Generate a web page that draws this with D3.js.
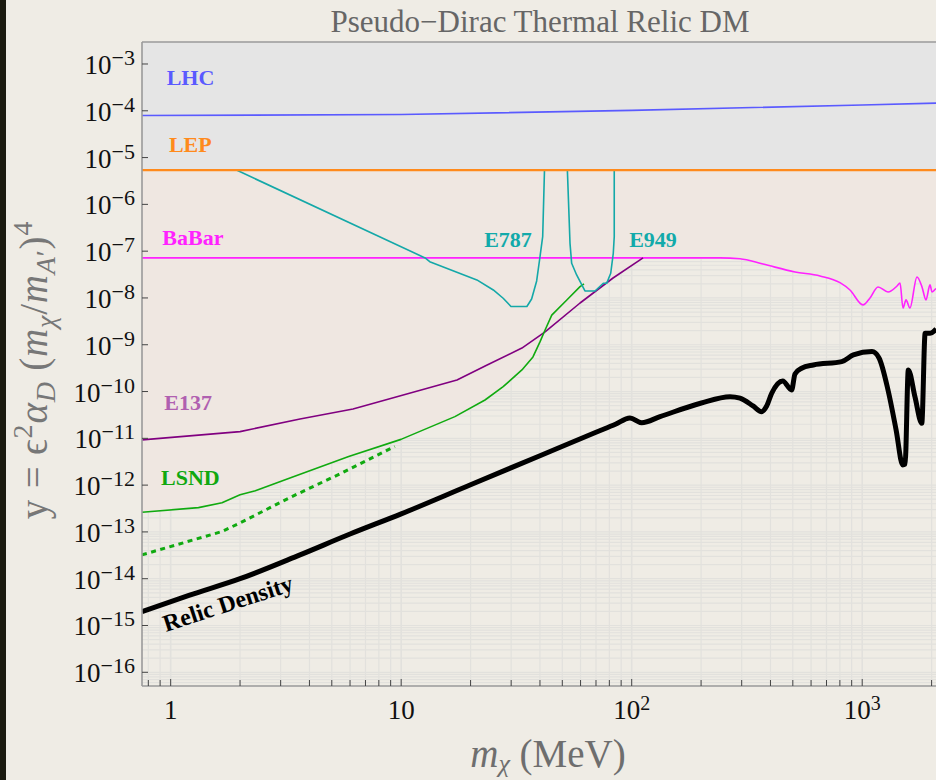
<!DOCTYPE html>
<html>
<head>
<meta charset="utf-8">
<script src="https://cdn.jsdelivr.net/npm/d3@7"></script>
<style>
  html, body { margin: 0; padding: 0; background: #efece5; }
  svg { display: block; }
</style>
</head>
<body>
<div id="chart"></div>
<script>
// ---- data: [m_chi (MeV), y] ----
const lhc = [[0.751, 7.9e-5], [10, 8.3e-5], [100, 1.02e-4], [1000, 1.33e-4], [2200, 1.47e-4]]
const lep = [[0.751, 5.4e-6], [2200, 5.4e-6]]
const babar = [[0.751, 7.2e-8], [242, 7.2e-8], [295, 6.9e-8], [371, 5.3e-8], [511, 3.6e-8], [656, 2.95e-8],
  [801, 2.12e-8], [885, 1.48e-8], [1008, 7.1e-9], [1081, 1.0e-8], [1171, 1.72e-8], [1294, 1.34e-8],
  [1416, 1.8e-8], [1459, 2.09e-8], [1503, 6.1e-9], [1549, 9.1e-9], [1611, 6.1e-9], [1728, 2.81e-8],
  [1817, 1.72e-8], [1891, 9.1e-9], [1968, 1.9e-8], [2009, 1.34e-8], [2091, 1.56e-8], [2200, 1.5e-8]]
const e137 = [[0.751, 9.25e-12], [2.0, 1.39e-11], [3.64, 2.6e-11], [6.18, 4.25e-11], [17.46, 1.77e-10],
  [23.6, 3.7e-10], [33.4, 8.5e-10], [42.1, 1.88e-9], [59.7, 7.8e-9], [83.0, 2.67e-8], [112, 7.2e-8]]
const lsnd = [[0.751, 2.64e-13], [1.32, 3.3e-13], [1.67, 4.2e-13], [2.0, 6.2e-13], [2.33, 7.6e-13],
  [3.36, 1.48e-12], [5.92, 4.07e-12], [9.98, 9.5e-12], [17.1, 2.91e-11], [23.1, 6.6e-11], [27.7, 1.27e-10],
  [33.4, 2.9e-10], [37.3, 5.5e-10], [40.0, 1.15e-9], [42.1, 2.07e-9], [45.0, 4.3e-9], [52.3, 9.06e-9],
  [59.7, 1.75e-8], [62.1, 2.0e-8]]
const lsndDotted = [[0.751, 3.23e-14], [1.67, 1.02e-13], [2.0, 1.56e-13], [3.36, 5.7e-13], [5.53, 1.82e-12], [9.38, 6.7e-12]]
const e787 = [[1.93, 5.4e-6], [12.7, 7.16e-8], [13.3, 5.97e-8], [21.3, 2.43e-8], [25.1, 1.48e-8], [27.7, 9.86e-9],
  [29.95, 6.58e-9], [35.1, 6.58e-9], [36.8, 9.5e-9], [38.7, 2.31e-8], [40.0, 7.5e-8], [41.1, 2.04e-7], [41.85, 5.4e-6]]
const e949 = [[52.6, 5.4e-6], [54.0, 1.47e-7], [54.9, 5.5e-8], [57.7, 3.1e-8], [62.7, 1.41e-8], [69.3, 1.41e-8],
  [75.3, 2.06e-8], [77.9, 2.06e-8], [81.1, 3.37e-8], [83.2, 9.0e-8], [84.0, 2.04e-7], [84.0, 5.4e-6]]
const relic = [[0.751, 1.98e-15], [1.2, 4.4e-15], [2.0, 1.0e-14], [3.64, 3.23e-14], [6.0, 9.0e-14], [10, 2.43e-13],
  [20, 1.02e-12], [40, 4.25e-12], [70, 1.35e-11], [85, 2.0e-11], [98.3, 2.73e-11], [110.5, 2.16e-11],
  [132.7, 2.91e-11], [198.9, 5.62e-11], [267, 7.78e-11], [295, 7.2e-11], [336, 4.92e-11], [366, 3.72e-11],
  [385, 4.92e-11], [405, 9.2e-11], [452, 1.68e-10], [494, 1.08e-10], [511, 2.38e-10], [546, 3.15e-10],
  [614, 3.7e-10], [815, 4.36e-10], [915, 6.05e-10], [1103, 7.13e-10], [1183, 5.22e-10], [1294, 1.08e-10],
  [1403, 1.51e-11], [1499, 2.7e-12], [1535, 2.8e-12], [1585, 2.9e-10], [1694, 7.68e-11], [1813, 2.1e-11],
  [1875, 1.76e-9], [1971, 1.76e-9], [2094, 2.18e-9]]

// ticks
const xMajor = [1, 10, 100, 1000]
const xMajorLabels = [['1', ''], ['10', ''], ['10', '2'], ['10', '3']]
const yExponents = [-3, -4, -5, -6, -7, -8, -9, -10, -11, -12, -13, -14, -15, -16]

// labels: [text, m, y, colour]
const curveLabels = [
  ['LHC', 0.961, 3.55e-4, '#5a5aff'],
  ['LEP', 0.983, 1.34e-5, '#ff8a1c'],
  ['BaBar', 0.92, 1.35e-7, '#ff22ff'],
  ['E137', 0.938, 4.05e-11, '#b060b0'],
  ['LSND', 0.908, 1.01e-12, '#10a810'],
  ['E787', 22.9, 1.23e-7, '#12aaaa'],
  ['E949', 97.5, 1.23e-7, '#12aaaa']
]

const W = 936, H = 780
const x = d3.scaleLog().domain([0.751, 2656]).range([142, 960])
const y = d3.scaleLog().domain([Math.pow(10, -2.53), Math.pow(10, -16.293)]).range([42, 686])

const svg = d3.select('#chart').append('svg').attr('width', W).attr('height', H)
  .style('font-family', '"Liberation Serif", "DejaVu Serif", serif')

svg.append('rect').attr('width', W).attr('height', H).attr('fill', '#efece5')
svg.append('rect').attr('width', 6).attr('height', H).attr('fill', '#1b1a10')

svg.append('clipPath').attr('id', 'plotclip')
  .append('rect').attr('x', 142).attr('y', 42).attr('width', 818).attr('height', 644)

const plot = svg.append('g').attr('clip-path', 'url(#plotclip)')

// grid
const xGrid = []
for (let k = -1; k <= 3; k++) for (let m = 1; m <= 9; m++) xGrid.push(m * Math.pow(10, k))
const yGrid = []
for (let k = -17; k <= -3; k++) for (let m = 1; m <= 9; m++) yGrid.push(m * Math.pow(10, k))

plot.selectAll('.vgrid').data(xGrid).enter().append('line')
  .attr('x1', d => x(d)).attr('x2', d => x(d)).attr('y1', 42).attr('y2', 686)
  .attr('stroke', '#e2e1dd').attr('stroke-width', d => xMajor.includes(d) ? 1.6 : 1.2)
plot.selectAll('.hgrid').data(yGrid).enter().append('line')
  .attr('x1', 142).attr('x2', 960).attr('y1', d => y(d)).attr('y2', d => y(d))
  .attr('stroke', '#e2e1dd').attr('stroke-width', 1.2)

// excluded region: union of areas above each bound
const lepY = y(lep[0][1])
const area = d3.area().x(d => x(d[0])).y0(lepY).y1(d => y(d[1]))
;[lsnd, e137, babar].forEach(s => {
  plot.append('path').datum(s).attr('d', area.curve(s === babar ? d3.curveMonotoneX : d3.curveLinear))
    .attr('fill', '#efe7e1')
})
plot.append('rect').attr('x', 142).attr('y', 42).attr('width', 818).attr('height', lepY - 42).attr('fill', '#e5e5e5')

// curves
const line = d3.line().x(d => x(d[0])).y(d => y(d[1]))
function drawLine(data, color, width, curve, dash) {
  plot.append('path').datum(data)
    .attr('d', line.curve(curve || d3.curveLinear))
    .attr('fill', 'none').attr('stroke', color).attr('stroke-width', width)
    .attr('stroke-linejoin', 'round')
    .attr('stroke-dasharray', dash || null)
}
drawLine(lhc, '#5a5aff', 1.6)
drawLine(babar, '#ff22ff', 1.6, d3.curveMonotoneX)
drawLine(e137, '#800080', 1.6)
drawLine(lsnd, '#10aa10', 1.6)
drawLine(lsndDotted, '#10aa10', 3, d3.curveLinear, '5,4.5')
drawLine(e787, '#14a8a8', 1.6)
drawLine(e949, '#14a8a8', 1.6)
drawLine(lep, '#ff8a1c', 2.2)
drawLine(relic, '#000', 5, d3.curveMonotoneX)

// frame
const axisCol = '#9a9a9a'
svg.append('line').attr('x1', 142).attr('x2', 960).attr('y1', 42).attr('y2', 42).attr('stroke', axisCol).attr('stroke-width', 1.6)
svg.append('line').attr('x1', 142).attr('x2', 142).attr('y1', 42).attr('y2', 686).attr('stroke', axisCol).attr('stroke-width', 1.6)
svg.append('line').attr('x1', 142).attr('x2', 960).attr('y1', 686).attr('y2', 686).attr('stroke', axisCol).attr('stroke-width', 1.6)

// y ticks
const yMajor = yExponents.map(e => Math.pow(10, e))
svg.selectAll('.ytick').data(yMajor).enter().append('line')
  .attr('x1', 142).attr('x2', 148).attr('y1', d => y(d)).attr('y2', d => y(d))
  .attr('stroke', '#444').attr('stroke-width', 1)
const ylab = svg.selectAll('.ylab').data(yExponents).enter().append('text')
  .attr('x', 135).attr('y', d => y(Math.pow(10, d)) + 10)
  .attr('text-anchor', 'end').attr('fill', '#111').style('font-size', '27px')
ylab.append('tspan').text('10')
ylab.append('tspan').attr('dy', -9).style('font-size', '22px').text(d => '\u2212' + Math.abs(d))

// x ticks
const xMinor = xGrid.filter(d => d >= 0.751 && d <= 2656)
svg.selectAll('.xtick').data(xMinor).enter().append('line')
  .attr('x1', d => x(d)).attr('x2', d => x(d)).attr('y1', 686).attr('y2', d => xMajor.includes(d) ? 679 : 680)
  .attr('stroke', '#444').attr('stroke-width', 1)
const xlab = svg.selectAll('.xlab').data(xMajor).enter().append('text')
  .attr('x', d => x(d)).attr('y', 719)
  .attr('text-anchor', 'middle').attr('fill', '#111').style('font-size', '27px')
xlab.append('tspan').text((d, i) => xMajorLabels[i][0])
xlab.append('tspan').attr('dy', -9).style('font-size', '20px').text((d, i) => xMajorLabels[i][1])

// title
svg.append('text').attr('x', 540).attr('y', 32).attr('text-anchor', 'middle')
  .attr('fill', '#666').style('font-size', '31px').text('Pseudo\u2212Dirac Thermal Relic DM')

// axis titles
const xt = svg.append('text').attr('x', 548).attr('y', 767).attr('text-anchor', 'middle')
  .attr('fill', '#6e6e6e').style('font-size', '39px')
xt.append('tspan').style('font-style', 'italic').text('m')
xt.append('tspan').attr('dy', 5).style('font-style', 'italic').style('font-size', '26px').text('\u03c7')
xt.append('tspan').attr('dy', -5).text(' (MeV)')

const yt = svg.append('text').attr('transform', 'translate(47,370) rotate(-90)').attr('text-anchor', 'middle')
  .attr('fill', '#777').style('font-size', '39px').style('letter-spacing', '0.8px')
yt.append('tspan').text('y = \u03f5')
yt.append('tspan').attr('dy', -15).style('font-size', '28px').text('2')
yt.append('tspan').attr('dy', 15).style('font-style', 'italic').text('\u03b1')
yt.append('tspan').attr('dy', 8).style('font-style', 'italic').style('font-size', '28px').text('D')
yt.append('tspan').attr('dy', -8).text(' (')
yt.append('tspan').style('font-style', 'italic').text('m')
yt.append('tspan').attr('dy', 8).style('font-style', 'italic').style('font-size', '28px').text('\u03c7')
yt.append('tspan').attr('dy', -8).text('/')
yt.append('tspan').style('font-style', 'italic').text('m')
yt.append('tspan').attr('dy', 8).style('font-style', 'italic').style('font-size', '28px').text('A')
yt.append('tspan').style('font-size', '28px').text('\u2032')
yt.append('tspan').attr('dy', -8).text(')')
yt.append('tspan').attr('dy', -15).style('font-size', '28px').text('4')

// curve labels
svg.selectAll('.clab').data(curveLabels).enter().append('text')
  .attr('x', d => x(d[1])).attr('y', d => y(d[2]))
  .attr('fill', d => d[3]).style('font-size', '22px').style('font-weight', 'bold')
  .text(d => d[0])

svg.append('text').attr('transform', `translate(${x(0.955)},${y(7.3e-16)}) rotate(-18)`)
  .style('font-size', '24px').style('font-weight', 'bold').attr('fill', '#000')
  .text('Relic Density')
</script>
</body>
</html>
